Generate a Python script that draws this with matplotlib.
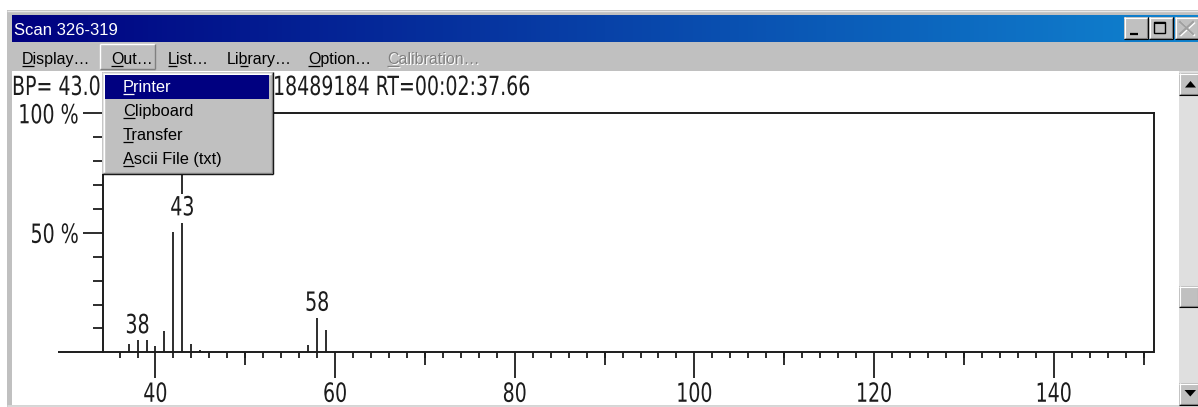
import numpy as np
import matplotlib
matplotlib.use("Agg")
import matplotlib.pyplot as plt
from matplotlib import font_manager as fm
from matplotlib.font_manager import FontProperties
from matplotlib.patches import Rectangle, Polygon
from matplotlib.colors import LinearSegmentedColormap
from matplotlib.patheffects import AbstractPathEffect
from matplotlib.transforms import Affine2D

# ---------------- data ----------------
window_title = "Scan 326-319"
menu_labels = ["Display…", "Out…", "List…", "Library…", "Option…", "Calibration…"]
menu_underline = [0, 0, 0, 2, 0, 0]
menu_enabled = [True, True, True, True, True, False]
dropdown_items = ["Printer", "Clipboard", "Transfer", "Ascii File (txt)"]
info_left = "BP= 43.0"
info_right = "18489184 RT=00:02:37.66"

mz = [37, 38, 39, 40, 41, 42, 43, 44, 45, 57, 58, 59]
rel_int = [3.3, 5.9, 6.4, 2.6, 8.9, 50.3, 100.0, 3.3, 1.0, 3.2, 15.3, 9.2]
labeled_mz = [38, 43, 58]
x_major = [40, 60, 80, 100, 120, 140]
x_mid = [50, 70, 90, 110, 130, 150]
y_major = [50, 100]
y_major_labels = ["50 %", "100 %"]
y_minor = [10, 20, 30, 40, 60, 70, 80, 90]

# ---------------- fonts ----------------
def pick(cands):
    for c in cands:
        try:
            fm.findfont(FontProperties(family=c), fallback_to_default=False)
            return c
        except Exception:
            pass
    return "DejaVu Sans"

UI = pick(["Liberation Sans", "Arial", "DejaVu Sans"])

def find_narrow():
    prefs = ["liberationsansnarrow-regular", "dejavusanscondensed.", "robotocondensed-regular",
             "opensanscondensed", "narrow", "condensed"]
    files = []
    for f in fm.fontManager.ttflist:
        low = f.fname.lower().replace(" ", "").replace("_", "")
        if any(b in low for b in ["bold", "italic", "oblique", "light", "thin", "black", "medium", "semi"]):
            continue
        files.append((low, f.fname))
    for p in prefs:
        for low, path in files:
            if p in low:
                return path
    return None

NARROW_PATH = find_narrow()
NSIZE = 19.0
SQUEEZE = 0.80 if NARROW_PATH else 0.70

def nfp(size):
    if NARROW_PATH:
        return FontProperties(fname=NARROW_PATH, size=size)
    return FontProperties(family=UI, size=size)


class HSqueeze(AbstractPathEffect):
    """Draw text horizontally compressed (mimics a narrow bitmap screen font)."""
    def __init__(self, sx, align="left"):
        super().__init__()
        self.sx = sx
        self.align = align

    def draw_path(self, renderer, gc, tpath, affine, rgbFace=None):
        ext = tpath.get_extents(affine)
        if self.align == "left":
            x0 = affine.transform((0, 0))[0]
        elif self.align == "right":
            x0 = ext.x1
        else:
            x0 = 0.5 * (ext.x0 + ext.x1)
        squeeze = Affine2D().translate(-x0, 0).scale(self.sx, 1).translate(x0, 0)
        renderer.draw_path(gc, tpath, affine + squeeze, rgbFace)


W, H = 1198, 407
fig = plt.figure(figsize=(W / 100, H / 100), dpi=100)
fig.patch.set_facecolor("white")

bg = fig.add_axes([0, 0, 1, 1], zorder=0)
bg.set_xlim(0, W); bg.set_ylim(H, 0); bg.axis("off")

ov = fig.add_axes([0, 0, 1, 1], zorder=3)
ov.set_xlim(0, W); ov.set_ylim(H, 0); ov.axis("off")
ov.patch.set_visible(False)

GREY = "#C0C0C0"
DARK = "#808080"
INK = "#1c1c1c"

def rect(ax, x0, y0, x1, y1, color, z=1):
    ax.add_patch(Rectangle((x0, y0), x1 - x0, y1 - y0, facecolor=color,
                           edgecolor="none", zorder=z))

def hline(ax, x0, x1, y, color, lw=1.0, z=2):
    ax.plot([x0, x1], [y, y], color=color, lw=lw, solid_capstyle="butt", zorder=z)

def vline(ax, x, y0, y1, color, lw=1.0, z=2):
    ax.plot([x, x], [y0, y1], color=color, lw=lw, solid_capstyle="butt", zorder=z)

def raised(ax, x0, y0, x1, y1, z=2):
    rect(ax, x0, y0, x1, y1, GREY, z)
    hline(ax, x0, x1, y0 + 0.5, "white", 0.8, z + 0.1)
    vline(ax, x0 + 0.5, y0, y1, "white", 0.8, z + 0.1)
    hline(ax, x0, x1, y1 - 0.5, "black", 0.8, z + 0.1)
    vline(ax, x1 - 0.5, y0, y1, "black", 0.8, z + 0.1)
    hline(ax, x0 + 1, x1 - 1, y1 - 1.5, DARK, 0.8, z + 0.1)
    vline(ax, x1 - 1.5, y0 + 1, y1 - 1, DARK, 0.8, z + 0.1)

renderer = fig.canvas.get_renderer()

def text_w(s, fp):
    if not s:
        return 0.0
    w, h, d = renderer.get_text_width_height_descent(s, fp, ismath=False)
    return w

def ui_text(ax, x, y, s, ul, color, size, z=5):
    fp = FontProperties(family=UI, size=size)
    ax.text(x, y, s, fontproperties=fp, color=color, ha="left", va="baseline", zorder=z)
    if ul is not None:
        x0 = x + text_w(s[:ul], fp)
        x1 = x + text_w(s[:ul + 1], fp)
        hline(ax, x0, x1, y + 2, color, 0.9, z)

# ---------------- window chrome ----------------
rect(bg, 7, 10, W, H, GREY, 0.5)                 # frame
hline(bg, 7, W, 10.5, "#E8E8E8", 1.0, 0.6)
cmap = LinearSegmentedColormap.from_list("tb", ["#000080", "#1084D0"])
grad = np.linspace(0, 1, 256).reshape(1, -1)
bg.imshow(grad, cmap=cmap, extent=(12, W, 42, 15), aspect="auto", zorder=1,
          interpolation="bilinear")
bg.set_xlim(0, W); bg.set_ylim(H, 0)
bg.text(14, 35, window_title, fontproperties=FontProperties(family=UI, size=12),
        color="white", ha="left", va="baseline", zorder=3)

# title buttons
raised(bg, 1124, 17, 1148, 39, 2)
hline(bg, 1130, 1138, 33.5, "black", 1.6, 3)
raised(bg, 1149, 17, 1173, 39, 2)
bg.add_patch(Rectangle((1153.5, 21.5), 11.5, 11.5, facecolor="none", edgecolor="black",
                       lw=1.0, zorder=3))
hline(bg, 1153.5, 1165, 22.5, "black", 1.5, 3)
raised(bg, 1175, 17, 1199, 39, 2)
for dx, col in [(1, "white"), (0, "#A0A0A0")]:
    bg.plot([1180 + dx, 1193 + dx], [22 + dx, 34 + dx], color=col, lw=1.6, zorder=3)
    bg.plot([1180 + dx, 1193 + dx], [34 + dx, 22 + dx], color=col, lw=1.6, zorder=3)

# menu bar
rect(bg, 10, 42, W, 71, GREY, 1)
hline(bg, 100, 155, 44, "white", 1.0, 2)
vline(bg, 100, 44, 69, "white", 1.0, 2)
hline(bg, 100, 155, 69, DARK, 1.0, 2)
vline(bg, 155, 44, 69, DARK, 1.0, 2)
menu_x = [22, 111, 168, 227, 308, 387]
for lab, x, ul, en in zip(menu_labels, menu_x, menu_underline, menu_enabled):
    if en:
        ui_text(bg, x, 64, lab, ul, "black", 11.5, 3)
    else:
        ui_text(bg, x + 1, 65, lab, ul, "white", 11.5, 3)
        ui_text(bg, x, 64, lab, ul, DARK, 11.5, 3.1)

# client area
rect(bg, 12, 71, 1179, 405, "white", 1)
hline(bg, 7, W, 406, "#D8D8D8", 2.0, 1.2)

# scrollbar
rect(bg, 1179, 71, W, 405, "#DFDFDF", 1.5)
raised(bg, 1179, 73, 1199, 95, 2)
bg.add_patch(Polygon([[1185, 87.5], [1196, 87.5], [1190.5, 81]], closed=True,
                     facecolor="black", edgecolor="none", zorder=3))
raised(bg, 1179, 286, 1199, 307, 2)
raised(bg, 1179, 383, 1199, 405, 2)
bg.add_patch(Polygon([[1184.5, 390], [1196, 390], [1190.3, 396.5]], closed=True,
                     facecolor="black", edgecolor="none", zorder=3))

# info line
bg.text(12, 95, info_left, fontproperties=nfp(NSIZE), color=INK, ha="left",
        va="baseline", zorder=3, path_effects=[HSqueeze(SQUEEZE, "left")])
bg.text(273, 95, info_right, fontproperties=nfp(NSIZE), color=INK, ha="left",
        va="baseline", zorder=3, path_effects=[HSqueeze(SQUEEZE, "left")])

# ---------------- spectrum axes ----------------
L, R, T, B = 102.7, 1154.3, 113.3, 352.3
ax = fig.add_axes([L / W, (H - B) / H, (R - L) / W, (B - T) / H], zorder=2)
ax.patch.set_visible(False)
px_per_unit = (1053.7 - 155.5) / 100.0
xmin = 40 - (155.5 - L) / px_per_unit
xmax = 40 + (R - 155.5) / px_per_unit
ax.set_xlim(xmin, xmax)
ax.set_ylim(0, 100)
py = (B - T) / 100.0  # px per percent

lw = 1.4
for s in ["left", "top", "right"]:
    ax.spines[s].set_linewidth(lw)
    ax.spines[s].set_color(INK)
ax.spines["bottom"].set_visible(False)
x_axis_left = 40 - (155.5 - 58.3) / px_per_unit
ax.plot([x_axis_left, xmax], [0, 0], color=INK, lw=lw, clip_on=False,
        solid_capstyle="butt", zorder=3)

ax.set_xticks(x_major)
ax.set_xticklabels([str(v) for v in x_major])
ax.set_xticks(np.arange(36, 151, 2), minor=True)
ax.tick_params(axis="x", which="major", direction="out", length=26 * 0.72, width=1.3,
               color=INK, pad=2.5, labelcolor=INK)
ax.tick_params(axis="x", which="minor", direction="out", length=5.5 * 0.72, width=1.3,
               color=INK)
ax.vlines(x_mid, -13 / py, 0, color=INK, lw=1.3, clip_on=False)

ax.set_yticks(y_major)
ax.set_yticklabels(y_major_labels)
ax.set_yticks(y_minor, minor=True)
ax.tick_params(axis="y", which="major", direction="out", length=20 * 0.72, width=1.3,
               color=INK, pad=2.5, labelcolor=INK)
ax.tick_params(axis="y", which="minor", direction="out", length=10 * 0.72, width=1.3,
               color=INK)
for lab in ax.get_xticklabels():
    lab.set_fontproperties(nfp(NSIZE))
    lab.set_path_effects([HSqueeze(SQUEEZE, "center")])
for lab in ax.get_yticklabels():
    lab.set_fontproperties(nfp(NSIZE))
    lab.set_path_effects([HSqueeze(SQUEEZE, "right")])

ax.vlines(mz, 0, rel_int, color=INK, lw=1.3, zorder=2)

gap = 2.1
cap = 57.3
for m in labeled_mz:
    h = rel_int[mz.index(m)]
    ax.text(m, min(h + gap, cap), str(m), fontproperties=nfp(NSIZE), color=INK,
            ha="center", va="baseline", zorder=4,
            path_effects=[HSqueeze(SQUEEZE, "center")],
            bbox=dict(boxstyle="square,pad=0.05", facecolor="white", edgecolor="none"))

# ---------------- dropdown menu (on top) ----------------
rect(ov, 102, 72, 273, 174, GREY, 1)
hline(ov, 102, 273, 72.5, "#DFDFDF", 1.0, 2)
vline(ov, 102.5, 72, 174, "#DFDFDF", 1.0, 2)
hline(ov, 103, 272, 73.5, "white", 1.0, 2)
vline(ov, 103.5, 73, 173, "white", 1.0, 2)
hline(ov, 102, 273, 173.5, "black", 1.0, 2)
vline(ov, 272.5, 72, 174, "black", 1.0, 2)
hline(ov, 103, 272, 172.5, DARK, 1.0, 2)
vline(ov, 271.5, 73, 173, DARK, 1.0, 2)
rect(ov, 104.5, 75, 269, 99, "#000080", 2)
item_base = [92, 116, 140, 164]
for i, (it, yb) in enumerate(zip(dropdown_items, item_base)):
    ui_text(ov, 123, yb, it, 0, "white" if i == 0 else "black", 11.8, 4)

fig.savefig("out.png", dpi=100, facecolor="white")
